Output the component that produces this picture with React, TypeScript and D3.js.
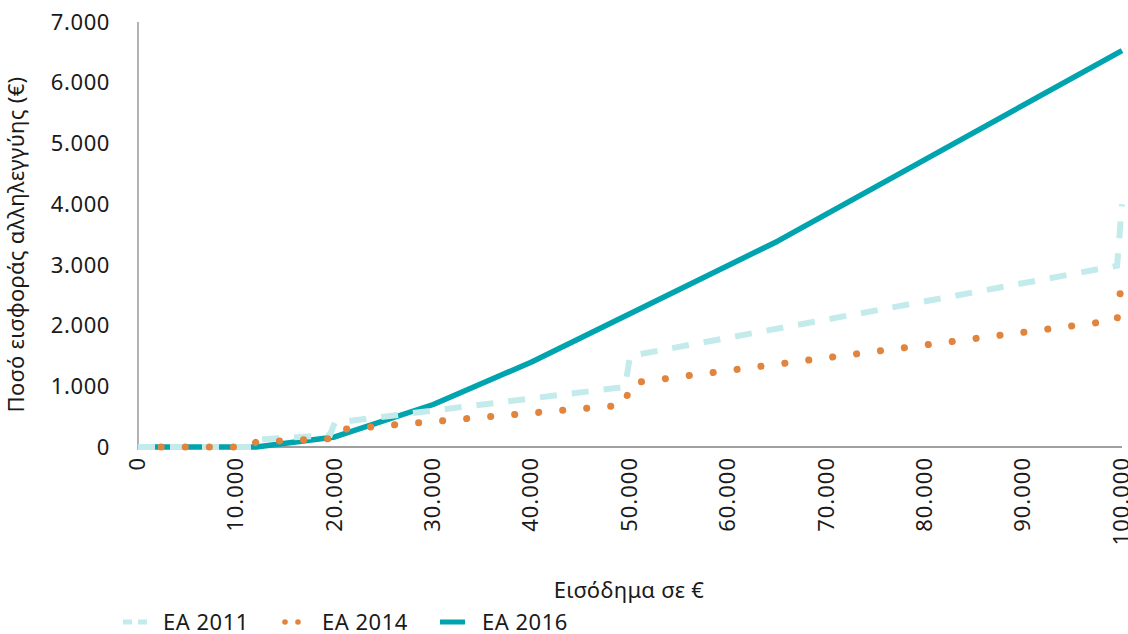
import * as d3 from "d3";

// income (€) and solidarity contribution (€)
const ea2011Income = [0, 11500, 12000, 19500, 20000, 49500, 50000, 99500, 100000];
const ea2011Value = [0, 0, 120, 195, 400, 990, 1500, 2985, 4000];

const ea2014Income = [0, 11500, 12000, 19500, 20000, 49500, 50000, 99500, 100000];
const ea2014Value = [0, 0, 84, 137, 280, 693, 1050, 2090, 2800];

const ea2016Income = [0, 12000, 20000, 30000, 40000, 65000, 100000];
const ea2016Value = [0, 0, 165, 700, 1400, 3390, 6530];

const xTicks = [0, 10000, 20000, 30000, 40000, 50000, 60000, 70000, 80000, 90000, 100000];
const yTicks = [0, 1000, 2000, 3000, 4000, 5000, 6000, 7000];

const seriesNames = ["EA 2011", "EA 2014", "EA 2016"];

const W = 1128;
const H = 634;
const FONT = "'Noto Sans', 'DejaVu Sans', sans-serif";

const fmt = (v: number) =>
  v === 0 ? "0" : d3.format(",")(v).replace(/,/g, ".");

export default function App() {
  const margin = { top: 22, right: 6, left: 138, bottom: 187 };
  const innerW = W - margin.left - margin.right;
  const innerH = H - margin.top - margin.bottom;

  const x = d3.scaleLinear().domain([0, 100000]).range([0, innerW]);
  const y = d3.scaleLinear().domain([0, 7000]).range([innerH, 0]);

  const line = d3
    .line<[number, number]>()
    .x(d => x(d[0]))
    .y(d => y(d[1]));

  const zip = (a: number[], b: number[]) =>
    a.map((v, i) => [v, b[i]] as [number, number]);

  const s2011 = line(zip(ea2011Income, ea2011Value)) || "";
  const s2014 = line(zip(ea2014Income, ea2014Value)) || "";
  const s2016 = line(zip(ea2016Income, ea2016Value)) || "";

  const c2011 = "#c4ebeb";
  const c2014 = "#e0843e";
  const c2016 = "#00a4ae";

  return (
    <div style={{ position: "absolute", left: 0, top: 0 }}>
      <svg width={W} height={H} style={{ display: "block", fontFamily: FONT }}>
        <rect width={W} height={H} fill="#fff" />
        <g transform={`translate(${margin.left},${margin.top})`}>
          {/* axes lines */}
          <line x1={0} x2={0} y1={0} y2={innerH + 3} stroke="#7f7f7f" strokeWidth={1.2} />
          <line x1={0} x2={innerW} y1={innerH} y2={innerH} stroke="#7f7f7f" strokeWidth={1.5} />

          {/* y ticks */}
          {yTicks.map(t => (
            <text
              key={t}
              x={-28}
              y={y(t)}
              dy="0.35em"
              textAnchor="end"
              fontSize={22}
              letterSpacing={0.6}
              fill="#1a1a1a"
            >
              {fmt(t)}
            </text>
          ))}

          {/* x ticks */}
          {xTicks.map(t => (
            <text
              key={t}
              transform={`translate(${x(t) - 1},${innerH + 10}) rotate(-90)`}
              dy="0.35em"
              textAnchor="end"
              fontSize={22}
              letterSpacing={1}
              fill="#1a1a1a"
            >
              {fmt(t)}
            </text>
          ))}

          {/* series */}
          <path d={s2016} fill="none" stroke={c2016} strokeWidth={5.5} strokeLinejoin="round" />
          <path
            d={s2011}
            fill="none"
            stroke={c2011}
            strokeWidth={6}
            strokeDasharray="17 15"
          />
          <path
            d={s2014}
            fill="none"
            stroke={c2014}
            strokeWidth={7}
            strokeLinecap="round"
            strokeDasharray="0.1 24"
            strokeDashoffset={1}
          />
        </g>

        {/* axis titles */}
        <text
          transform={`translate(24,${margin.top + innerH / 2 + 10}) rotate(-90)`}
          textAnchor="middle"
          fontSize={22}
          letterSpacing={0.3}
          fill="#1a1a1a"
        >
          Ποσό εισφοράς αλληλεγγύης (€)
        </text>
        <text x={629} y={598} textAnchor="middle" fontSize={22} letterSpacing={0.3} fill="#1a1a1a">
          Εισόδημα σε €
        </text>

        {/* legend */}
        <g transform="translate(0,622)">
          <line x1={123} x2={147} y1={0} y2={0} stroke={c2011} strokeWidth={5} strokeDasharray="9 6" />
          <text x={163} y={0} dy="0.35em" fontSize={22} letterSpacing={0.5} fill="#1a1a1a">{seriesNames[0]}</text>
          <circle cx={285} cy={0} r={2.8} fill={c2014} />
          <circle cx={298} cy={0} r={2.8} fill={c2014} />
          <text x={322} y={0} dy="0.35em" fontSize={22} letterSpacing={0.5} fill="#1a1a1a">{seriesNames[1]}</text>
          <line x1={440} x2={465} y1={0} y2={0} stroke={c2016} strokeWidth={5} />
          <text x={482} y={0} dy="0.35em" fontSize={22} letterSpacing={0.5} fill="#1a1a1a">{seriesNames[2]}</text>
        </g>
      </svg>
    </div>
  );
}
